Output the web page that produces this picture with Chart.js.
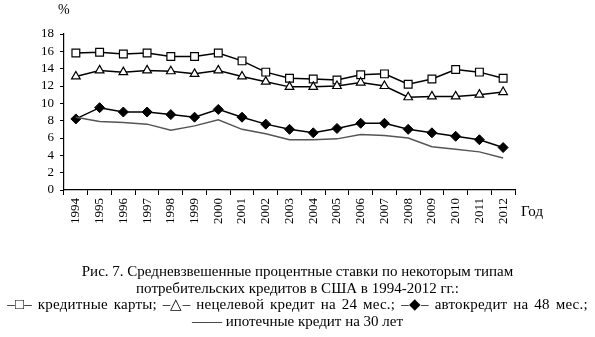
<!DOCTYPE html>
<html>
<head>
<meta charset="utf-8">
<script src="https://cdn.jsdelivr.net/npm/chart.js@4"></script>
<style>
  body { margin: 0; background: #fff; }
  #wrap { position: relative; width: 595px; height: 337px; font-family: 'Liberation Serif', serif; color: #000; }
  #chart { position: absolute; left: 0; top: 0; }
  .lbl { position: absolute; white-space: nowrap; }
  #caption { position: absolute; left: 0; top: 263px; width: 595px; text-align: center; font-size: 15px; line-height: 16.5px; }
  .legend-line { word-spacing: 2px; letter-spacing: 0.2px; white-space: nowrap; }
</style>
</head>
<body>
<div id="wrap">
  <canvas id="chart" width="595" height="337"></canvas>
  <div class="lbl" style="left:58px; top:2px; font-size:14px;">%</div>
  <div class="lbl" style="left:521px; top:203px; font-size:15px;">Год</div>
  <div id="caption">
    Рис. 7. Средневзвешенные процентные ставки по некоторым типам<br>
    потребительских кредитов в США в 1994-2012 гг.:<br>
    <span class="legend-line">–□– кредитные карты; –△– нецелевой кредит на 24 мес.; –◆– автокредит на 48 мес.;</span><br>
    —— ипотечные кредит на 30 лет
  </div>
</div>
<script>
'use strict';

// ******* DATA *******

let years = ['1994', '1995', '1996', '1997', '1998', '1999', '2000', '2001', '2002', '2003',
  '2004', '2005', '2006', '2007', '2008', '2009', '2010', '2011', '2012'];

let creditCards = [15.8, 15.9, 15.7, 15.8, 15.4, 15.4, 15.8, 14.9, 13.6, 12.9,
  12.8, 12.7, 13.3, 13.4, 12.2, 12.8, 13.9, 13.6, 12.9];
let personal24 = [13.1, 13.8, 13.6, 13.8, 13.7, 13.4, 13.8, 13.1, 12.5, 11.9,
  11.9, 12.0, 12.4, 12.0, 10.7, 10.8, 10.8, 11.0, 11.3];
let auto48 = [8.2, 9.5, 9.0, 9.0, 8.7, 8.4, 9.3, 8.4, 7.6, 7.0,
  6.6, 7.1, 7.7, 7.7, 7.0, 6.6, 6.2, 5.8, 4.9];
let mortgage30 = [8.4, 7.9, 7.8, 7.6, 6.9, 7.4, 8.1, 7.0, 6.5, 5.8,
  5.8, 5.9, 6.4, 6.3, 6.0, 5.0, 4.7, 4.4, 3.7];

let yMin = 0;
let yMax = 18;
let yStep = 2;


// ******* CHART *******

const ctx = document.getElementById('chart').getContext('2d');
const serif = 'Liberation Serif';

const myChart = new Chart(ctx, {
  type: 'line',
  data: {
    labels: years,
    datasets: [
      {
        label: 'ипотечные кредит на 30 лет',
        data: mortgage30,
        borderColor: '#555555',
        borderWidth: 1.5,
        pointRadius: 0,
        tension: 0
      },
      {
        label: 'автокредит на 48 мес.',
        data: auto48,
        borderColor: '#000',
        borderWidth: 1.5,
        pointStyle: 'rectRot',
        pointRadius: 5,
        pointBackgroundColor: '#000',
        pointBorderColor: '#000',
        pointBorderWidth: 1
      },
      {
        label: 'нецелевой кредит на 24 мес.',
        data: personal24,
        borderColor: '#000',
        borderWidth: 1.5,
        pointStyle: 'triangle',
        pointRadius: 5,
        pointBackgroundColor: '#fff',
        pointBorderColor: '#000',
        pointBorderWidth: 1.2
      },
      {
        label: 'кредитные карты',
        data: creditCards,
        borderColor: '#000',
        borderWidth: 1.5,
        pointStyle: 'rect',
        pointRadius: 5.5,
        pointBackgroundColor: '#fff',
        pointBorderColor: '#000',
        pointBorderWidth: 1.2
      }
    ]
  },
  options: {
    responsive: false,
    animation: false,
    layout: {
      padding: { left: 0, right: 80, top: 34, bottom: 0 }
    },
    plugins: {
      legend: { display: false },
      tooltip: { enabled: false }
    },
    scales: {
      x: {
        offset: true,
        afterFit: function (scale) { scale.height = 147; },
        grid: {
          offset: true,
          drawOnChartArea: false,
          color: '#000',
          tickLength: 5,
          tickColor: '#000'
        },
        border: { color: '#000', width: 1.2 },
        ticks: {
          color: '#000',
          minRotation: 90,
          maxRotation: 90,
          autoSkip: false,
          padding: 3,
          font: { family: serif, size: 13 }
        }
      },
      y: {
        min: yMin,
        max: yMax,
        afterFit: function (scale) { scale.width = 64; },
        grid: {
          drawOnChartArea: false,
          tickLength: 4,
          tickColor: '#000'
        },
        border: { color: '#000', width: 1.2 },
        ticks: {
          stepSize: yStep,
          autoSkip: false,
          color: '#000',
          padding: 6,
          font: { family: serif, size: 13 }
        }
      }
    }
  }
});
</script>
</body>
</html>
